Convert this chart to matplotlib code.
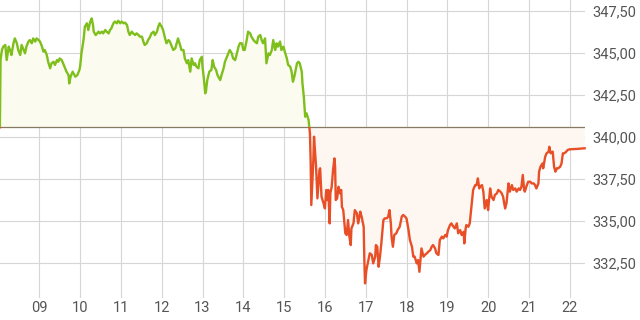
import matplotlib
matplotlib.use("Agg")
import matplotlib.pyplot as plt
from matplotlib.patches import Rectangle
import numpy as np

# intraday quotes: minute of day, price
minutes = [
    482, 483, 485, 487, 490, 492, 495, 497, 499, 502, 504, 507, 509, 512, 514, 517, 519, 521,
    524, 526, 529, 531, 534, 536, 539, 541, 544, 546, 548, 551, 553, 556, 558, 561, 563, 566,
    568, 570, 573, 575, 578, 580, 583, 584, 586, 589, 593, 596, 599,
    600, 602, 605, 607, 610, 612, 615, 617, 619, 620, 623, 627, 629, 632, 634, 637, 639, 642,
    644, 646, 649, 651, 654, 656, 659, 661, 664, 666, 669, 671, 673, 676, 678, 681, 683, 686,
    688, 691, 693, 695, 698, 700, 703, 705, 708, 710, 713, 715, 717,
    718, 720, 722, 725, 727, 730, 732, 735, 737, 740, 742, 744, 747, 749, 752, 754, 757, 759,
    762, 764, 767, 769, 771, 774, 776, 779, 780, 782, 784, 785, 787, 790, 793, 795, 797, 800,
    802, 806, 808, 811, 813, 816, 818, 820, 823, 825, 828, 830, 833, 835,
    838, 840, 842, 845, 847, 850, 852, 855, 857, 860, 862, 865, 867, 869, 872, 874, 877, 879,
    882, 884, 887, 889, 891, 894, 896, 899, 901, 904, 906, 909, 911, 913, 915, 917, 919, 921,
    923, 926, 927, 929, 931, 933, 936, 937, 938, 939, 940, 943, 944, 947, 949, 952,
    953, 955, 958, 960, 962, 964, 965, 967, 968, 970, 972, 974, 975, 976, 978, 980, 982, 984,
    985, 987, 990, 992, 994, 996, 998, 999, 1002, 1004, 1007, 1009, 1012, 1014, 1017, 1018,
    1019, 1021, 1024, 1026, 1029, 1031, 1034, 1035, 1037, 1039, 1041, 1043, 1046, 1048, 1051,
    1053, 1055, 1057, 1058, 1060, 1062, 1065, 1067, 1070,
    1073, 1075, 1078, 1080, 1083, 1085, 1088, 1090, 1092, 1095, 1097, 1099, 1101, 1102, 1105,
    1107, 1110, 1112, 1115, 1117, 1119, 1122, 1124, 1127, 1129, 1132, 1134, 1137, 1139, 1141,
    1144, 1146, 1149, 1151, 1154, 1156, 1159, 1161, 1164, 1165, 1167, 1168, 1171, 1173, 1176,
    1178, 1181, 1183, 1185, 1187, 1188,
    1191, 1193, 1195, 1198, 1200, 1203, 1205, 1208, 1210, 1213, 1215, 1218, 1220, 1222, 1225,
    1227, 1230, 1232, 1235, 1237, 1240, 1242, 1245, 1247, 1249, 1251, 1253, 1254, 1257, 1259,
    1262, 1264, 1267, 1269, 1271, 1274, 1275, 1277, 1280, 1281, 1284, 1286, 1289, 1290, 1292,
    1295, 1297, 1299, 1301, 1303, 1306, 1308, 1310, 1312, 1315, 1317, 1320, 1330, 1342,
]
prices = [
    340.58, 344.58, 345.18, 345.38, 345.48, 344.58, 345.38, 345.18, 344.88, 345.58, 345.87, 345.58,
    345.18, 344.88, 345.48, 345.18, 344.98, 345.38, 345.68, 345.77, 345.58, 345.87, 345.68, 345.87,
    345.77, 345.68, 345.38, 345.08, 345.18, 344.88, 344.48, 344.09, 344.39, 344.48, 344.29, 344.58,
    344.48, 344.68, 344.58, 344.39, 344.09, 343.89, 343.69, 343.19, 343.59, 343.89, 343.59, 343.69,
    343.99,
    344.19, 344.98, 345.77, 346.57, 346.77, 346.37, 346.87, 347.06, 346.67, 346.27, 346.07, 346.27,
    346.17, 346.27, 346.17, 346.37, 346.27, 346.17, 346.37, 346.47, 346.77, 346.87, 346.77, 346.92,
    346.77, 346.87, 346.77, 346.81, 346.67, 346.27, 346.07, 346.27, 346.17, 346.07, 346.17, 346.07,
    345.97, 345.97, 345.68, 345.48, 345.58, 345.77, 345.97, 346.17, 346.27, 346.07, 346.27, 346.57,
    346.77,
    346.67, 346.57, 346.37, 345.87, 345.58, 345.77, 345.68, 345.38, 345.18, 345.28, 345.58, 345.87,
    345.48, 345.18, 345.18, 344.68, 344.39, 344.58, 343.89, 344.68, 344.29, 344.39, 344.19, 344.09,
    344.58, 344.78, 344.19, 343.49, 342.60, 342.70, 343.39, 343.89, 343.99, 344.58, 344.19, 343.99,
    343.69, 343.39, 343.69, 344.09, 344.48, 344.78, 344.98, 345.18, 344.98, 344.68, 344.58, 344.88,
    345.38, 345.58,
    345.58, 345.18, 345.18, 345.77, 346.27, 346.17, 345.97, 345.77, 345.68, 345.58, 345.97, 346.07,
    345.77, 345.58, 345.87, 344.39, 344.98, 344.88, 345.18, 345.77, 345.18, 345.58, 345.38, 345.68,
    345.18, 345.38, 345.08, 344.68, 344.29, 344.19, 343.89, 343.29, 343.59, 343.99, 344.39, 344.48,
    344.39, 343.89, 343.19, 342.40, 341.21, 341.41, 341.01, 340.58, 340.22, 338.63, 335.95, 338.63,
    340.02, 338.23, 336.35, 338.04,
    338.14, 336.45, 336.05, 335.75, 336.85, 336.25, 336.85, 334.86, 336.65, 337.04, 338.04, 338.73,
    338.23, 336.25, 336.35, 337.04, 336.65, 336.85, 335.85, 335.65, 334.27, 334.17, 335.06, 334.07,
    333.57, 334.56, 334.86, 335.65, 335.46, 334.86, 335.56, 335.26, 334.66, 332.68, 331.29, 332.08,
    332.68, 333.08, 332.98, 332.48, 332.88, 333.57, 333.47, 332.28, 332.88, 333.67, 335.06, 335.16,
    335.16, 335.26, 335.65, 334.86, 334.07, 333.47, 334.17, 334.27, 334.46, 334.66,
    335.26, 335.36, 335.26, 335.16, 334.46, 333.87, 333.47, 332.88, 332.88, 332.48, 332.68, 331.98,
    332.88, 333.37, 332.88, 332.98, 333.08, 333.17, 333.27, 333.47, 333.57, 333.37, 333.08, 332.98,
    333.87, 334.07, 333.97, 334.17, 334.07, 334.46, 334.76, 334.86, 334.66, 334.56, 334.86, 334.27,
    334.46, 334.17, 334.36, 333.67, 334.56, 334.76, 334.66, 334.86, 336.05, 336.85, 337.14, 337.14,
    337.54, 336.94, 337.04,
    337.14, 336.75, 335.75, 336.25, 335.65, 336.94, 336.45, 336.25, 336.55, 336.65, 336.85, 336.75,
    336.65, 336.45, 335.75, 336.05, 337.24, 336.75, 337.14, 336.85, 336.94, 336.75, 336.94, 336.85,
    337.04, 337.74, 336.85, 336.75, 337.14, 337.34, 337.34, 337.24, 337.24, 337.14, 336.94, 337.24,
    337.94, 338.23, 338.43, 338.14, 338.83, 339.03, 339.13, 339.42, 339.03, 339.13, 338.23, 337.94,
    338.14, 338.14, 338.23, 338.43, 339.03, 339.03, 339.13, 339.23, 339.27, 339.29, 339.33,
]
prev_close = 340.58
hour_ticks = list(range(9, 23))
price_ticks = [332.5, 335.0, 337.5, 340.0, 342.5, 345.0, 347.5]

x = np.array(minutes, dtype=float)
y = np.array(prices)

plt.rcParams["font.family"] = ["Roboto", "DejaVu Sans"]

fig = plt.figure(figsize=(6.4, 3.2), dpi=100)
ax = fig.add_axes([0, 22 / 320, 585 / 640, 298 / 320])

x0, x1 = 482.2, 1342.5
y0, y1 = 330.42, 348.155
ax.set_xlim(x0, x1)
ax.set_ylim(y0, y1)

# fills against previous close
ax.fill_between(x, y, prev_close, where=y >= prev_close, interpolate=True,
                color="#fbfbf0", lw=0, zorder=1)
ax.fill_between(x, y, prev_close, where=y <= prev_close, interpolate=True,
                color="#fdf6f1", lw=0, zorder=1)

ax.axhline(prev_close, color="#857a62", lw=0.9, zorder=2)

# price line, green above and red below previous close
up, = ax.plot(x, y, color="#7ebf1c", lw=1.7, zorder=3)
down, = ax.plot(x, y, color="#e84f27", lw=1.7, zorder=3)
up.set_clip_path(Rectangle((x0 - 10, prev_close), x1 - x0 + 20, 50,
                           transform=ax.transData))
down.set_clip_path(Rectangle((x0 - 10, prev_close - 50), x1 - x0 + 20, 50,
                             transform=ax.transData))

ax.set_xticks([h * 60 for h in hour_ticks])
ax.set_xticklabels([f"{h:02d}" for h in hour_ticks])
ax.set_yticks(price_ticks)
ax.set_yticklabels([f"{v:.2f}".replace(".", ",") for v in price_ticks])
ax.yaxis.tick_right()

ax.grid(True, color="#d6d6d6", lw=0.8, zorder=0)
ax.set_axisbelow(True)
for s in ax.spines.values():
    s.set_visible(False)
ax.tick_params(axis="both", length=0, labelsize=10.5, colors="#555555")
ax.tick_params(axis="x", pad=2)
ax.tick_params(axis="y", pad=5)

fig.savefig("out.png", dpi=100)
